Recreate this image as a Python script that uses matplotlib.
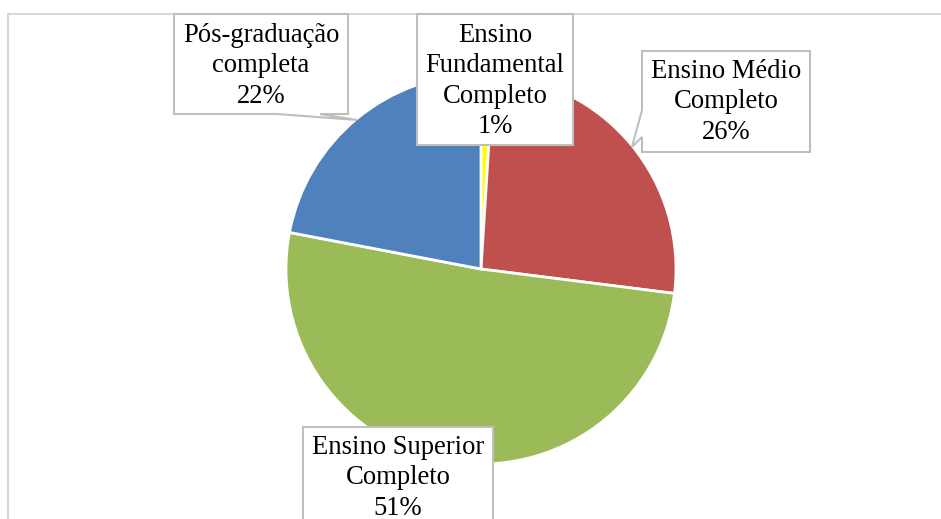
import matplotlib.pyplot as plt
from matplotlib.patches import Polygon

# data
categories = ["Ensino\nFundamental\nCompleto", "Ensino Médio\nCompleto",
              "Ensino Superior\nCompleto", "Pós-graduação\ncompleta"]
values = [1, 26, 51, 22]
colors = ["#FFFF00", "#C0504D", "#9BBB59", "#4F81BD"]

W, H = 941, 519
fig = plt.figure(figsize=(W / 100, H / 100), dpi=100)
# axes in pixel units, y pointing down like the picture
ax = fig.add_axes([0, 0, 1, 1])

# with y inverted, counterclock=True draws clockwise on screen; start at the top
ax.pie(values, colors=colors, center=(481, 269), radius=195,
       startangle=-90, counterclock=True,
       wedgeprops=dict(edgecolor="white", linewidth=2))

ax.set_xlim(0, W)
ax.set_ylim(H, 0)
ax.set_aspect("auto")
ax.axis("off")

# chart frame (left and top visible)
ax.plot([8, 8, W + 5], [H + 5, 14, 14], color="#D9D9D9", lw=1.5,
        clip_on=False, zorder=1)

edge = "#BFBFBF"
font = dict(family="Liberation Serif", fontsize=19.2, ha="center",
            va="center", multialignment="center", linespacing=1.28, zorder=6)

# callout shapes: box outline with pointer, in pixel coords
callouts = {
    0: [(417, 14), (573, 14), (573, 145), (417, 145)],
    1: [(642, 51), (810, 51), (810, 152), (642, 152), (642, 137),
        (632, 147), (642, 110)],
    2: [(303, 427), (493, 427), (493, 540), (303, 540)],
    3: [(174, 14), (348, 14), (348, 114), (320, 114), (357, 120),
        (277, 114), (174, 114)],
}
text_pos = {0: (495, 81), 1: (726, 102), 2: (398, 478), 3: (261, 66)}

for i, (cat, val) in enumerate(zip(categories, values)):
    ax.add_patch(Polygon(callouts[i], closed=True, facecolor="white",
                         edgecolor=edge, lw=1.5, zorder=5, clip_on=False))
    ax.text(*text_pos[i], f"{cat}\n{val}%", **font)

fig.savefig("out.png", dpi=100)
